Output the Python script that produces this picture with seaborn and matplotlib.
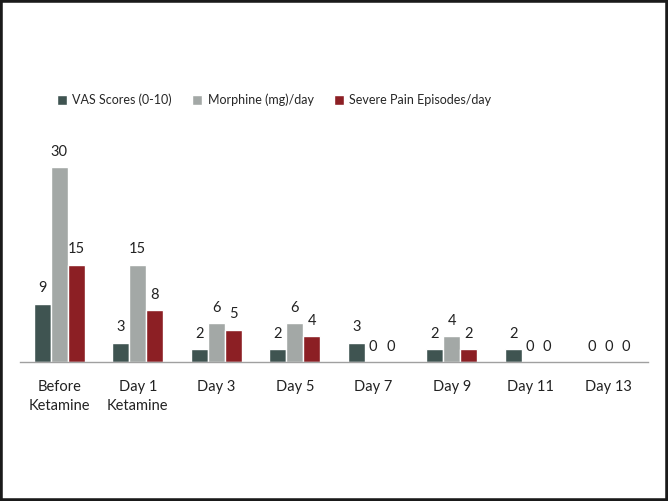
import seaborn as sns
import numpy as np
import pandas as pd
import matplotlib.pyplot as plt
from matplotlib.patches import Rectangle

days = ['Before\nKetamine', 'Day 1\nKetamine', 'Day 3', 'Day 5', 'Day 7', 'Day 9', 'Day 11', 'Day 13']
vas = [9, 3, 2, 2, 3, 2, 2, 0]
morphine = [30, 15, 6, 6, 0, 4, 0, 0]
severe = [15, 8, 5, 4, 0, 2, 0, 0]
series = ['VAS Scores (0-10)', 'Morphine (mg)/day', 'Severe Pain Episodes/day']
colors = ['#3f5451', '#a3a8a6', '#8c1f24']

df = pd.DataFrame({
    'day': days * 3,
    'value': vas + morphine + severe,
    'series': [series[0]] * 8 + [series[1]] * 8 + [series[2]] * 8,
})

sns.set_style('white')
plt.rcParams['font.family'] = ['Lato', 'DejaVu Sans']

fig = plt.figure(figsize=(6.68, 5.01), dpi=100)
ax = fig.add_axes([0.030, 0.2774, 0.940, 0.463])

sns.barplot(data=df, x='day', y='value', hue='series', palette=colors,
            width=0.65, gap=0, saturation=1, ax=ax, legend=True)

for c in ax.containers:
    ax.bar_label(c, fmt='%g', padding=6, fontsize=10.5, color='#222222')

ax.set_xlim(-0.5, 7.5)
ax.set_ylim(0, 35.7)
ax.set_xlabel('')
ax.set_ylabel('')
ax.set_yticks([])
for s in ['top', 'left', 'right']:
    ax.spines[s].set_visible(False)
ax.spines['bottom'].set_color('#a0a0a0')
ax.spines['bottom'].set_linewidth(1)
ax.tick_params(axis='x', length=0, pad=13, labelsize=10.5, labelcolor='#222222')
for t in ax.get_xticklabels():
    t.set_linespacing(1.45)

handles, labels = ax.get_legend_handles_labels()
ax.get_legend().remove()
fig.legend(handles, labels, loc='center left', bbox_to_anchor=(0.085, 0.80),
           ncol=3, frameon=False, fontsize=9, handlelength=0.8, handleheight=0.8,
           handletextpad=0.45, columnspacing=1.6, borderpad=0, borderaxespad=0)

fig.patches.append(Rectangle((0, 0), 1, 1, transform=fig.transFigure,
                             fill=False, edgecolor='#1a1a1a', linewidth=4))

fig.savefig('out.png', dpi=100)
